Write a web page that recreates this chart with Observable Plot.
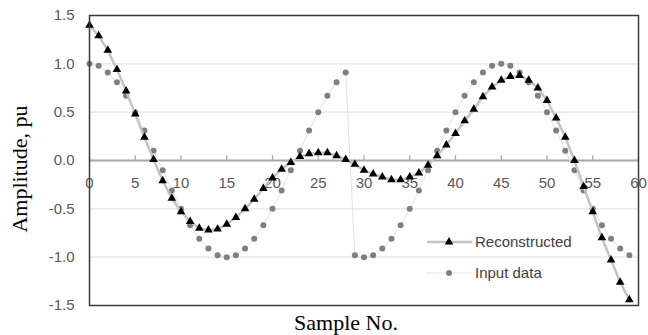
<!DOCTYPE html>
<html><head><meta charset="utf-8">
<script src="https://cdn.jsdelivr.net/npm/d3@7"></script>
<script src="https://cdn.jsdelivr.net/npm/@observablehq/plot@0.6"></script>
<style>body{margin:0;background:#fff}#chart{width:648px;height:335px}</style>
</head><body><div id="chart"></div>
<script>
const sampleNo = [0,1,2,3,4,5,6,7,8,9,10,11,12,13,14,15,16,17,18,19,20,21,22,23,24,25,26,27,28,29,30,31,32,33,34,35,36,37,38,39,40,41,42,43,44,45,46,47,48,49,50,51,52,53,54,55,56,57,58,59];
const reconstructed = [1.40,1.29,1.14,0.94,0.72,0.48,0.24,0.01,-0.21,-0.39,-0.53,-0.63,-0.70,-0.72,-0.71,-0.66,-0.59,-0.50,-0.40,-0.29,-0.18,-0.09,-0.02,0.04,0.07,0.08,0.08,0.05,0.01,-0.04,-0.10,-0.14,-0.17,-0.20,-0.20,-0.17,-0.13,-0.05,0.05,0.16,0.28,0.41,0.53,0.66,0.76,0.83,0.87,0.88,0.83,0.75,0.62,0.44,0.24,0.00,-0.27,-0.53,-0.80,-1.03,-1.26,-1.44];
const inputData = [1.00,0.98,0.91,0.81,0.67,0.50,0.31,0.10,-0.10,-0.31,-0.50,-0.67,-0.81,-0.91,-0.98,-1.00,-0.98,-0.91,-0.81,-0.67,-0.50,-0.31,-0.10,0.10,0.31,0.50,0.67,0.81,0.91,-0.98,-1.00,-0.98,-0.91,-0.81,-0.67,-0.50,-0.31,-0.10,0.10,0.31,0.50,0.67,0.81,0.91,0.98,1.00,0.98,0.91,0.81,0.67,0.50,0.31,0.10,-0.10,-0.31,-0.50,-0.67,-0.81,-0.91,-0.98];
const xTicks = [0,5,10,15,20,25,30,35,40,45,50,55,60];
const yTicks = [-1.5,-1.0,-0.5,0.0,0.5,1.0,1.5];
const gridY = [-1.0,-0.5,0.5,1.0];
const seriesNames = ["Reconstructed","Input data"];
const xTitle = "Sample No.";
const yTitle = "Amplitude, pu";

const rows = sampleNo.map((n,i)=>({n, rec: reconstructed[i], inp: inputData[i]}));

const plot = Plot.plot({
  width:648, height:335,
  marginLeft:89, marginRight:10, marginTop:15, marginBottom:30,
  x:{domain:[0,60], axis:null},
  y:{domain:[-1.5,1.5]},
  style:{fontFamily:"'Liberation Sans', Arial, sans-serif", fontSize:"15px", color:"#595959", background:"#fff"},
  marks:[
    Plot.ruleY(gridY,{stroke:"#e3e3e3", strokeWidth:1.3}),
    Plot.ruleY([0],{stroke:"#a6a6a6", strokeWidth:2.2}),
    Plot.ruleX(xTicks,{x:d=>d, y1:0, y2:0.05, stroke:"#a6a6a6", strokeWidth:1.2}),
    Plot.axisY({ticks:yTicks, tickSize:0, tickPadding:15, tickFormat:d=>d.toFixed(1), fill:"#595959", label:null, fontSize:15}),
    Plot.text(xTicks,{x:d=>d, y:0, dy:23, text:d=>String(d), fill:"#595959", fontSize:15}),
    Plot.line(rows,{x:"n", y:"inp", stroke:"#e2e2e2", strokeWidth:1}),
    Plot.dot(rows,{x:"n", y:"inp", r:3, fill:"#7f7f7f"}),
    Plot.line(rows,{x:"n", y:"rec", stroke:"#c4c4c4", strokeWidth:2.5}),
    Plot.dot(rows,{x:"n", y:"rec", r:3.2, symbol:"triangle", fill:"#000"}),
    Plot.frame({stroke:"#3a3a3a", strokeWidth:1.5})
  ]
});
document.getElementById("chart").appendChild(plot);

const svg = d3.select(plot);
svg.append("text")
  .attr("transform","translate(27,169) rotate(-90)")
  .attr("text-anchor","middle")
  .style("font-family","'Liberation Serif', 'Times New Roman', serif")
  .style("font-size","22px").attr("fill","#000").text(yTitle);
svg.append("text")
  .attr("x",346).attr("y",330)
  .attr("text-anchor","middle")
  .style("font-family","'Liberation Serif', 'Times New Roman', serif")
  .style("font-size","22px").attr("fill","#000").text(xTitle);

const leg = svg.append("g");
const rowsY = [242, 273];
// Reconstructed
leg.append("line").attr("x1",427).attr("x2",472).attr("y1",rowsY[0]).attr("y2",rowsY[0]).attr("stroke","#c4c4c4").attr("stroke-width",2.5);
leg.append("path").attr("d", d3.symbol(d3.symbolTriangle, Math.PI*3.2*3.2)()).attr("transform",`translate(449,${rowsY[0]})`).attr("fill","#000");
// Input data
leg.append("line").attr("x1",427).attr("x2",472).attr("y1",rowsY[1]).attr("y2",rowsY[1]).attr("stroke","#e2e2e2").attr("stroke-width",1);
leg.append("circle").attr("cx",449).attr("cy",rowsY[1]).attr("r",3).attr("fill","#7f7f7f");
seriesNames.forEach((s,i)=>{
  leg.append("text").attr("x",475).attr("y",rowsY[i]).attr("dy","0.35em")
    .attr("text-anchor","start")
    .style("font-family","'Liberation Sans', Arial, sans-serif").style("font-size","15px")
    .attr("fill","#404040").text(s);
});
</script>
</body></html>
